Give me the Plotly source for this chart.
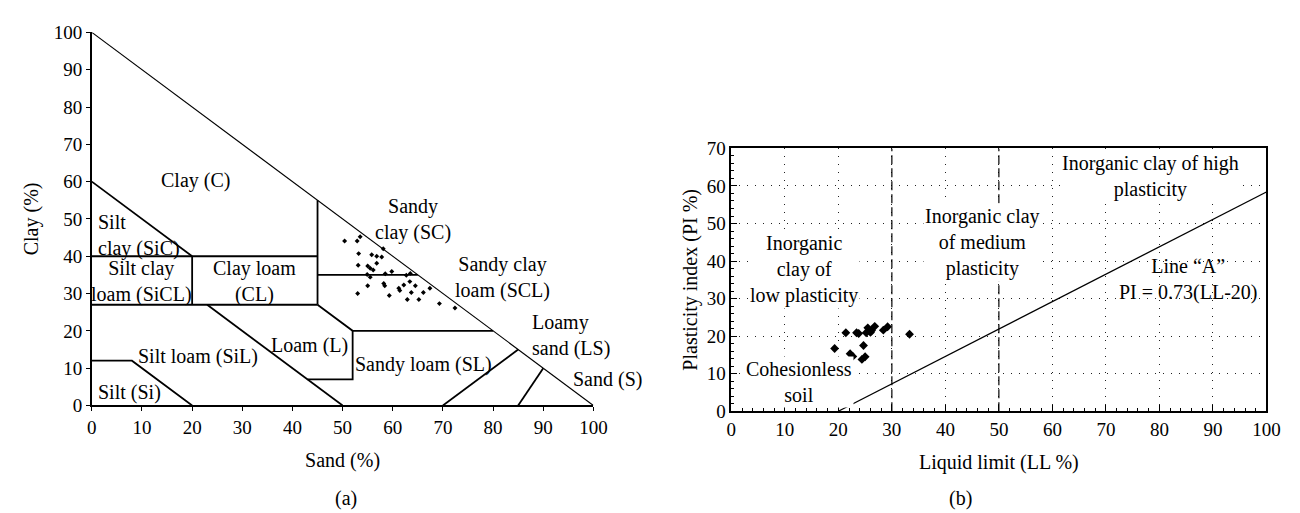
import plotly.graph_objects as go

FONT = "'Liberation Serif', 'DejaVu Serif', serif"

# ---------- (a) soil texture data: sand %, clay % ----------
tex_sand = [50.4, 52.9, 53.5, 53.2, 55.8, 56.8, 57.8, 58.1, 53.1, 55.0, 56.8, 55.5,
            56.1, 54.9, 55.5, 58.5, 59.8, 62.7, 63.5, 55.0, 58.2, 58.4, 53.0, 61.2,
            61.4, 62.2, 63.4, 64.5, 59.3, 63.7, 62.9, 65.2, 66.1, 67.4, 69.3, 72.4]
tex_clay = [44.1, 44.1, 45.2, 40.7, 40.4, 40.0, 39.8, 42.0, 37.6, 37.4, 38.1, 36.8,
            36.3, 35.1, 34.4, 35.3, 35.9, 34.9, 35.4, 32.1, 32.7, 32.1, 30.0, 31.4,
            30.8, 32.3, 33.2, 32.1, 29.5, 30.3, 28.4, 28.4, 30.3, 31.4, 27.3, 26.1]

# triangle hypotenuse (sand, clay)
hyp_sand = [0, 100]
hyp_clay = [100, 0]

# texture class boundaries (segments separated by None)
bnd_sand = [0, 20, None, 0, 45, None, 45, 45, None, 45, 65, None, 0, 45, None,
            20, 20, None, 45, 52, 80, None, 52, 52, 43, None, 23, 50, None,
            0, 8, 20, None, 70, 85, None, 85, 90]
bnd_clay = [60, 40, None, 40, 40, None, 27, 55, None, 35, 35, None, 27, 27, None,
            27, 40, None, 27, 20, 20, None, 20, 7, 7, None, 27, 0, None,
            12, 12, 0, None, 0, 15, None, 0, 10]

tex_labels = ["Clay (C)", "Silt<br>clay (SiC)", "Silt clay<br>loam (SiCL)", "Clay loam<br>(CL)",
              "Sandy<br>clay (SC)", "Sandy clay<br>loam (SCL)", "Loamy<br>sand (LS)", "Sand (S)",
              "Loam (L)", "Sandy loam (SL)", "Silt loam (SiL)", "Silt (Si)"]
tex_lab_sand = [20.7, 0.8, 9.9, 32.4, 64.0, 81.9, 87.4, 95.6, 43.3, 66.1, 21.2, 7.5]
tex_lab_clay = [60.2, 45.6, 33.3, 33.3, 49.9, 34.2, 18.8, 7.0, 16.0, 11.1, 13.2, 3.4]
tex_lab_anchor = ["center", "left", "center", "center", "center", "center", "left",
                  "left", "center", "center", "center", "center"]

# ---------- (b) plasticity chart data: LL %, PI % ----------
pl_ll = [19.3, 21.4, 22.2, 22.7, 23.4, 23.8, 24.7, 24.4, 25.0, 25.2, 25.5, 26.2, 26.0,
         26.8, 28.4, 29.2, 33.3]
pl_pi = [16.7, 20.9, 15.3, 14.6, 20.9, 20.7, 17.5, 13.8, 14.5, 20.9, 22.2, 21.5, 21.0,
         22.6, 21.6, 22.5, 20.5]

lineA_ll = [20, 100]
lineA_pi = [0, 58.4]

div_ll = [30, 50]

pl_labels = ["Inorganic clay of high<br>plasticity", "Inorganic clay<br>of medium<br>plasticity",
             "Inorganic<br>clay of<br>low plasticity", "Cohesionless<br>soil",
             "Line \u201cA\u201d<br>PI = 0.73(LL-20)"]
pl_lab_ll = [78.3, 46.9, 13.5, 12.6, 85.3]
pl_lab_pi = [62.6, 44.9, 37.7, 7.7, 35.1]
pl_lab_bg = ["white", "white", "white", "white", "rgba(0,0,0,0)"]

fig = go.Figure()

# (a)
fig.add_trace(go.Scatter(x=hyp_sand, y=hyp_clay, mode="lines",
                         line=dict(color="black", width=1.1), xaxis="x", yaxis="y",
                         showlegend=False, hoverinfo="skip"))
fig.add_trace(go.Scatter(x=bnd_sand, y=bnd_clay, mode="lines",
                         line=dict(color="black", width=1.8), xaxis="x", yaxis="y",
                         showlegend=False, hoverinfo="skip", connectgaps=False))
fig.add_trace(go.Scatter(x=tex_sand, y=tex_clay, mode="markers",
                         marker=dict(symbol="diamond", size=3.8, color="black"),
                         xaxis="x", yaxis="y", showlegend=False))

# (b)
for v in div_ll:
    fig.add_trace(go.Scatter(x=[v, v], y=[0, 70], mode="lines",
                             line=dict(color="black", width=1.2, dash="9px,4px"),
                             xaxis="x2", yaxis="y2", showlegend=False, hoverinfo="skip"))
fig.add_trace(go.Scatter(x=lineA_ll, y=lineA_pi, mode="lines",
                         line=dict(color="black", width=1.3), xaxis="x2", yaxis="y2",
                         showlegend=False, hoverinfo="skip"))
fig.add_trace(go.Scatter(x=pl_ll, y=pl_pi, mode="markers",
                         marker=dict(symbol="diamond", size=6.8, color="black"),
                         xaxis="x2", yaxis="y2", showlegend=False))

annotations = []
for t, x, y, a in zip(tex_labels, tex_lab_sand, tex_lab_clay, tex_lab_anchor):
    annotations.append(dict(text=t, x=x, y=y, xref="x", yref="y", showarrow=False,
                            xanchor=a, yanchor="middle", align=a,
                            font=dict(family=FONT, size=20, color="black")))
for t, x, y, bg in zip(pl_labels, pl_lab_ll, pl_lab_pi, pl_lab_bg):
    annotations.append(dict(text=t, x=x, y=y, xref="x2", yref="y2", showarrow=False,
                            xanchor="center", yanchor="middle", align="center",
                            bgcolor=bg, borderpad=1,
                            font=dict(family=FONT, size=20, color="black")))
annotations.append(dict(text="(a)", x=325 / 1300, y=(513 - 501) / 513, xref="paper", yref="paper",
                        showarrow=False, yanchor="middle",
                        font=dict(family=FONT, size=20, color="black")))
annotations.append(dict(text="(b)", x=975 / 1300, y=(513 - 501) / 513, xref="paper", yref="paper",
                        showarrow=False, yanchor="middle",
                        font=dict(family=FONT, size=20, color="black")))

tickfont = dict(family=FONT, size=19, color="black")
titlefont = dict(family=FONT, size=20, color="black")

fig.update_layout(
    width=1300, height=513, autosize=False,
    margin=dict(l=0, r=0, t=0, b=0),
    paper_bgcolor="white", plot_bgcolor="white",
    showlegend=False,
    font=dict(family=FONT, color="black"),
    annotations=annotations,
    xaxis=dict(domain=[80 / 1300, 589 / 1300], range=[0, 100], dtick=10, tick0=0,
               showline=True, linecolor="black", linewidth=1.5, ticks="outside",
               ticklen=4, tickwidth=1.2, tickcolor="black", showgrid=False, zeroline=False,
               tickfont=tickfont, title=dict(text="Sand (%)", font=titlefont, standoff=16),
               anchor="y", fixedrange=True),
    yaxis=dict(domain=[(513 - 404) / 513, (513 - 15) / 513], range=[0, 100], dtick=10, tick0=0,
               showline=True, linecolor="black", linewidth=1.5, ticks="outside",
               ticklen=4, tickwidth=1.2, tickcolor="black", showgrid=False, zeroline=False,
               tickfont=tickfont, title=dict(text="Clay (%)", font=titlefont, standoff=10),
               anchor="x", fixedrange=True),
    xaxis2=dict(domain=[729 / 1300, 1272 / 1300], range=[0, 100], dtick=10, tick0=0,
                showline=True, mirror=True, linecolor="black", linewidth=1.5, ticks="inside",
                ticklen=6, tickwidth=1.2, tickcolor="black",
                minor=dict(dtick=2, ticks="inside", ticklen=3, tickwidth=1, tickcolor="black",
                           showgrid=False),
                showgrid=True, gridcolor="#222", griddash="1px,7px", gridwidth=1.2,
                zeroline=False, tickfont=tickfont,
                title=dict(text="Liquid limit (LL %)", font=titlefont, standoff=16),
                anchor="y2", fixedrange=True),
    yaxis2=dict(domain=[(513 - 410) / 513, (513 - 136) / 513], range=[0, 70], dtick=10, tick0=0,
                showline=True, mirror=True, linecolor="black", linewidth=1.5, ticks="inside",
                ticklen=6, tickwidth=1.2, tickcolor="black",
                minor=dict(dtick=2, ticks="inside", ticklen=3, tickwidth=1, tickcolor="black",
                           showgrid=False),
                showgrid=True, gridcolor="#222", griddash="1px,7px", gridwidth=1.2,
                zeroline=False, tickfont=tickfont,
                title=dict(text="Plasticity index (PI %)", font=titlefont, standoff=4),
                anchor="x2", fixedrange=True),
)

fig.write_html("out.html")
